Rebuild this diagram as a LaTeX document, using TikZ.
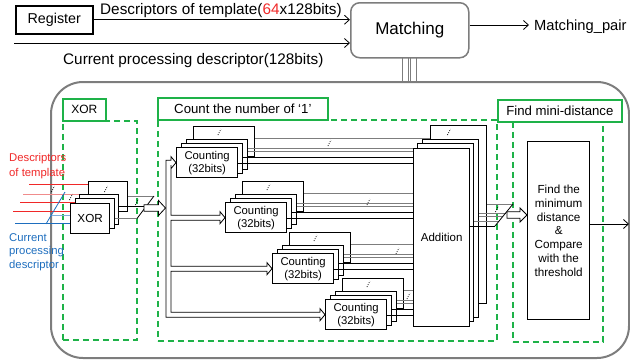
\documentclass[tikz,border=0pt]{standalone}
\usepackage{fontspec}
\setmainfont{Liberation Sans}
\usetikzlibrary{arrows.meta, positioning, calc}
\definecolor{hwgreen}{RGB}{30,178,72}
\definecolor{hwred}{RGB}{240,40,40}
\definecolor{hwpink}{RGB}{240,140,140}
\definecolor{hwblue}{RGB}{30,110,190}
\definecolor{hwlblue}{RGB}{130,175,220}
\definecolor{hwgray}{RGB}{125,125,125}
\newcommand{\fsz}[2]{\fontsize{#1}{#2}\selectfont}

\begin{document}
\begin{tikzpicture}[
  x=1pt, y=-1pt, >={Straight Barb[length=5pt, width=9pt]},
  box/.style={draw, fill=white, line width=1.3pt, inner sep=0pt, anchor=north west, align=center},
  xorbox/.style={box, minimum width=39pt, minimum height=30pt, font=\fsz{11.7}{14}},
  cntbox/.style={box, minimum width=61pt, minimum height=30pt, font=\fsz{11.3}{13}},
  addbox/.style={box, minimum width=56pt, minimum height=178pt, font=\fsz{11.5}{14}},
  region/.style={draw=hwgreen, line width=1.7pt, dash pattern=on 6pt off 4pt, inner sep=0pt, anchor=north west},
  ttl/.style={draw=hwgreen, fill=white, line width=1.7pt, inner sep=0pt, anchor=north west,
              minimum height=22pt, font=\fsz{13.2}{15}},
  lbl/.style={inner sep=0pt, font=\fsz{15.3}{18}},
  wire/.style={line width=0.8pt},
  gwire/.style={line width=0.8pt, hwgray},
  hollow/.style={draw, fill=white, line width=0.8pt},
  skip/.style={line width=0.8pt, dash pattern=on 0.8pt off 1.4pt}
]
\useasboundingbox (0,0) rectangle (630,362);

% top level
\node[box, line width=1.5pt, minimum width=77pt, minimum height=28pt, font=\fsz{14.3}{17}] (reg) at (15,5) {Register};
\node[draw=hwgray, line width=1.5pt, rounded corners=9pt, inner sep=0pt, anchor=north west,
      minimum width=118pt, minimum height=55pt, font=\fsz{17}{20}] (match) at (350,2) {Matching};
\coordinate (cur) at (14,43);
\coordinate (pair) at (529,25);
\draw[wire, ->] (reg.east) -- (reg.east -| match.west);
\draw[wire, ->] (cur) -- (cur -| match.west);
\draw[wire, ->] (pair -| match.east) -- (pair);
\node[lbl, anchor=base west] (tpl) at (100,14) {Descriptors of template(\textcolor{hwred}{64}x128bits)};
\node[lbl, anchor=base west] (cpd) at (63,64) {Current processing descriptor(128bits)};
\node[lbl, anchor=base west, font=\fsz{14.7}{17}] (mpair) at (534,30) {Matching\_pair};

% matching unit
\node[draw=hwgray, line width=2pt, rounded corners=32pt, inner sep=0pt, anchor=north west,
      minimum width=578pt, minimum height=276pt] (core) at (50,81) {};
\node[draw=hwgray, line width=1pt, inner sep=0pt, anchor=north west, minimum width=6pt, minimum height=24pt] (linka) at (402,57) {};
\node[draw=hwgray, line width=1pt, inner sep=0pt, anchor=north west, minimum width=6pt, minimum height=24pt] (linkb) at (410,57) {};

\node[region, minimum width=74pt, minimum height=219pt] (rxor) at (62,120) {};
\node[region, minimum width=339pt, minimum height=221pt] (rcnt) at (157,119) {};
\node[region, minimum width=90pt, minimum height=220pt] (rfind) at (512,121) {};
\node[ttl, minimum width=43pt, font=\fsz{12}{14}] (txor) at (62,98) {XOR};
\node[ttl, minimum width=170pt] (tcnt) at (157,97) {Count the number of ‘1’};
\node[ttl, minimum width=124pt] (tfind) at (497,99) {Find mini-distance};

% XOR
\node[inner sep=0pt, anchor=north west, align=left, text=hwred, font=\fsz{11.3}{15}] (ldesc) at (9,153) {Descriptors\\of template};
\node[inner sep=0pt, anchor=north west, align=left, text=hwblue, font=\fsz{11.3}{13.7}] (lcur) at (9,233) {Current\\processing\\descriptor};
\node[xorbox] (xor-d) at (88,181) {};
\node[xorbox] (xor-c) at (79,194) {};
\node[xorbox] (xor-b) at (75,198) {};
\node[xorbox] (xor-a) at (70,203) {XOR};
\coordinate (in1) at (29,184);
\coordinate (in2) at (23,194);
\coordinate (in3) at (20,202);
\coordinate (in4) at (13,211);
\coordinate (in5) at (50,215);
\coordinate (in6) at (15,223);
\draw[wire, hwred] (in1) -- (in1 -| xor-d.west);
\draw[wire, hwpink] (in2) -- (in2 -| xor-c.west);
\draw[wire, hwred] (in3) -- (in3 -| xor-b.west);
\draw[wire, hwred] (in4) -- (in4 -| xor-a.west);
\draw[wire, hwlblue] (in5) -- (in5 -| xor-a.west);
\draw[wire, hwblue] (in6) -- (in6 -| xor-a.west);
\draw[wire, hwblue] (46,224) -- (65,192);
\coordinate (xo1) at (154,196);
\coordinate (xo2) at (145.5,206);
\coordinate (xo3) at (137,218.5);
\draw[gwire] (xo1 -| xor-d.east) -- (xo1);
\draw[wire] (xo2 -| xor-c.east) -- (xo2);
\draw[gwire] (xo3 -| xor-b.east) -- (xo3);
\draw[wire] (xo1) -- (xo3);
\coordinate (xb0) at (144,208);
\coordinate (xb1) at (165.5,208);
\draw[hollow] ($(xb0)+(0,-3.3)$) -- ($(xb1)+(-7,-3.3)$) -- ($(xb1)+(-7,-7.5)$) -- (xb1)
  -- ($(xb1)+(-7,7.5)$) -- ($(xb1)+(-7,3.3)$) -- ($(xb0)+(0,3.3)$) -- cycle;

% counting
\node[addbox] (add-d) at (430,125) {};
\node[addbox] (add-c) at (422,139) {};
\node[addbox] (add-b) at (417,143) {};
\node[addbox] (add-a) at (413,148) {Addition};
\foreach \i/\x/\y/\lx/\ly in {1/176/147/329/143, 2/225/202/368/202, 3/272/253/397/251, 4/325/299/408/296} {
  \node[cntbox] (c\i-d) at ({\x+17},{\y-21}) {};
  \node[cntbox] (c\i-c) at ({\x+10},{\y-8}) {};
  \node[cntbox] (c\i-b) at ({\x+5},{\y-4}) {};
  \node[cntbox] (c\i-a) at (\x,\y) {Counting\\(32bits)};
  \draw[skip] ({\x+42},{\y-12}) -- ++(3,-6);
  \draw[skip] ({\lx-1},{\ly+3}) -- ++(3,-6);
}
\draw[gwire] ([yshift=3pt]c1-d.east) -- ([yshift=3pt]c1-d.east -| add-d.west);
\foreach \i in {2,3,4}
  \draw[gwire] ([yshift=3pt]c\i-d.east) -- ([yshift=3pt]c\i-d.east -| add-a.west);
\foreach \i in {1,...,4} {
  \draw[gwire] ([yshift=6pt]c\i-c.east) -- ([yshift=6pt]c\i-c.east -| add-a.west);
  \draw[gwire] ([yshift=3pt]c\i-c.east) -- ([yshift=3pt]c\i-c.east -| add-a.west);
  \draw[wire] ([yshift=1pt]c\i-b.east) -- ([yshift=1pt]c\i-b.east -| add-a.west);
  \draw[wire] ([yshift=-1pt]c\i-a.east) -- ([yshift=-1pt]c\i-a.east -| add-a.west);
}
% hollow bus to the counters
\coordinate (bl) at (166,0);
\coordinate (br) at (171,0);
\draw[hollow] ($(bl |- c1-a.west)+(0,-2.5)$) -- ($(c1-a.west)+(-5,-2.5)$) -- ($(c1-a.west)+(-5,-6)$) -- (c1-a.west)
  -- ($(c1-a.west)+(-5,6)$) -- ($(c1-a.west)+(-5,2.5)$) -- ($(br |- c1-a.west)+(0,2.5)$)
  -- ($(br |- c2-a.west)+(0,-2.5)$) -- ($(c2-a.west)+(-5,-2.5)$) -- ($(c2-a.west)+(-5,-6)$) -- (c2-a.west)
  -- ($(c2-a.west)+(-5,6)$) -- ($(c2-a.west)+(-5,2.5)$) -- ($(br |- c2-a.west)+(0,2.5)$)
  -- ($(br |- c3-a.west)+(0,-2.5)$) -- ($(c3-a.west)+(-5,-2.5)$) -- ($(c3-a.west)+(-5,-6)$) -- (c3-a.west)
  -- ($(c3-a.west)+(-5,6)$) -- ($(c3-a.west)+(-5,2.5)$) -- ($(br |- c3-a.west)+(0,2.5)$)
  -- ($(br |- c4-a.west)+(0,-2.5)$) -- ($(c4-a.west)+(-5,-2.5)$) -- ($(c4-a.west)+(-5,-6)$) -- (c4-a.west)
  -- ($(c4-a.west)+(-5,6)$) -- ($(c4-a.west)+(-5,2.5)$) -- ($(bl |- c4-a.west)+(0,2.5)$) -- cycle;

% find mini-distance
\node[box, minimum width=62pt, minimum height=178pt, font=\fsz{11.7}{13.8}] (find) at (527,141)
  {Find the\\minimum\\distance\\\&\\Compare\\with the\\threshold};
\coordinate (ao1) at (513,204);
\coordinate (ao2) at (505.6,213);
\coordinate (ao3) at (503,216);
\coordinate (ao4) at (499,221);
\coordinate (ao5) at (495,226);
\draw[gwire] (ao1 -| add-d.east) -- (ao1);
\draw[gwire] (ao2 -| add-c.east) -- (ao2);
\draw[gwire] (ao3 -| add-c.east) -- (ao3);
\draw[gwire] (ao4 -| add-b.east) -- (ao4);
\draw[wire] (ao5 -| add-a.east) -- (ao5);
\draw[wire] (ao1) -- (ao5);
\coordinate (ab0) at (507,215);
\coordinate (ab1) at (ab0 -| find.west);
\draw[hollow] ($(ab0)+(0,-3.3)$) -- ($(ab1)+(-7,-3.3)$) -- ($(ab1)+(-7,-7)$) -- (ab1)
  -- ($(ab1)+(-7,7)$) -- ($(ab1)+(-7,3.3)$) -- ($(ab0)+(0,3.3)$) -- cycle;
\coordinate (fo) at (629,224);
\draw[wire, ->] (fo -| find.east) -- (fo);

% omitted-item marks
\foreach \x/\y in {53/189, 71/197, 106/189, 137/202, 449/132, 497/209}
  \draw[skip] ({\x-1.5},{\y+3}) -- ++(3,-6);
\end{tikzpicture}
\end{document}
